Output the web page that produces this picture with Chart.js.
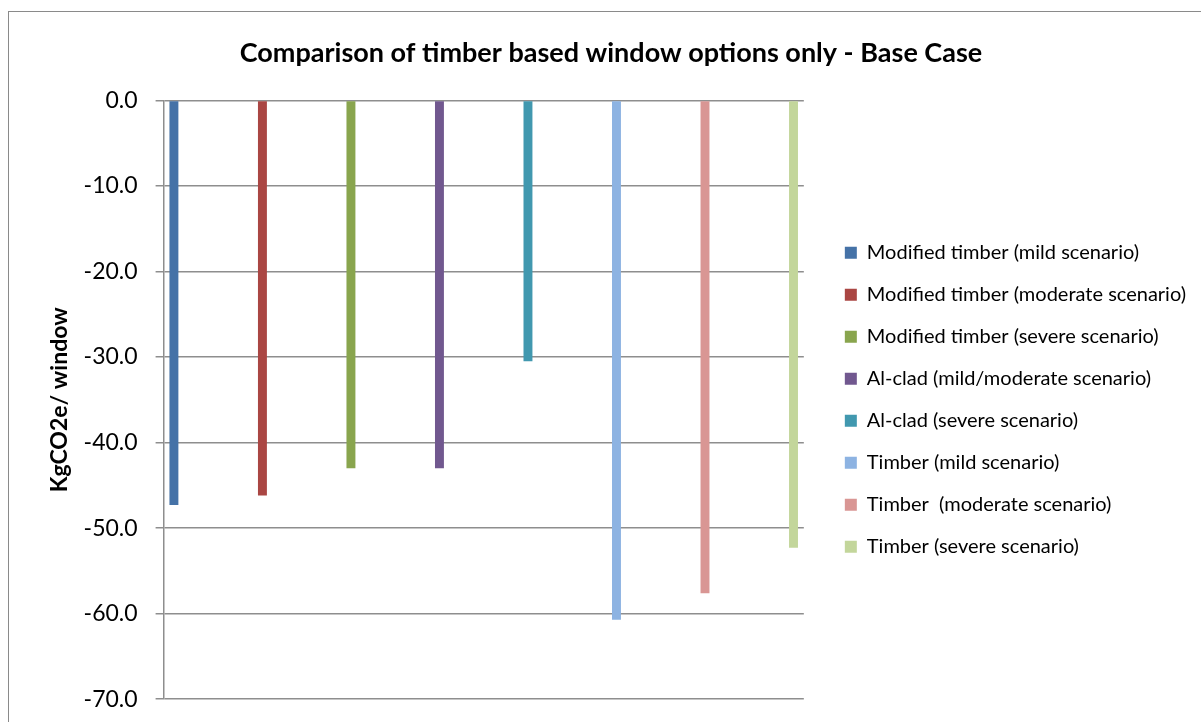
<!DOCTYPE html>
<html>
<head>
    <title>Timber window options</title>
    <script src="https://cdn.jsdelivr.net/npm/chart.js@4"></script>
    <style>
        body { margin: 0; background: #fff; font-family: Lato, sans-serif; overflow: hidden; }
        .frame { position: absolute; left: 8px; top: 11px; width: 1300px; height: 800px; border: 1px solid #8a8a8a; }
        .chart-box { position: absolute; left: 0; top: 0; width: 1222px; height: 731px; }
    </style>
</head>
<body>
    <div class="frame"></div>
    <div class="chart-box"><canvas id="chart"></canvas></div>

    <script>
        const categories = [''];
        const seriesNames = [
            'Modified timber (mild scenario)',
            'Modified timber (moderate scenario)',
            'Modified timber (severe scenario)',
            'Al-clad (mild/moderate scenario)',
            'Al-clad (severe scenario)',
            'Timber (mild scenario)',
            'Timber  (moderate scenario)',
            'Timber (severe scenario)'
        ];
        const seriesValues = [-47.3, -46.2, -43.0, -43.0, -30.5, -60.7, -57.6, -52.3];
        const seriesColors = ['#4572A7', '#AA4643', '#89A54E', '#71588F', '#4198AF', '#8DB3E2', '#D99694', '#C3D69B'];
        const yTicks = [0, -10, -20, -30, -40, -50, -60, -70];

        function drawChart() {
            const datasets = seriesNames.map((name, i) => ({
                label: name,
                data: [seriesValues[i]],
                backgroundColor: seriesColors[i],
                borderWidth: 0,
                categoryPercentage: 1.106,
                barPercentage: 0.101
            }));

            new Chart(document.getElementById('chart'), {
                type: 'bar',
                data: { labels: categories, datasets: datasets },
                options: {
                    responsive: true,
                    maintainAspectRatio: false,
                    animation: false,
                    layout: { padding: { left: 26, right: 26, top: 0, bottom: 6 } },
                    plugins: {
                        title: {
                            display: true,
                            text: 'Comparison of timber based window options only - Base Case',
                            color: '#000',
                            font: { family: 'Lato', size: 27, weight: 'bold' },
                            padding: { top: 37, bottom: 31 }
                        },
                        legend: {
                            position: 'right',
                            fullSize: false,
                            maxWidth: 420,
                            labels: {
                                color: '#000',
                                font: { family: 'Lato', size: 20 },
                                boxWidth: 12,
                                boxHeight: 12,
                                padding: 22
                            }
                        },
                        tooltip: { enabled: false }
                    },
                    scales: {
                        x: { display: false },
                        y: {
                            min: -70,
                            max: 0,
                            afterBuildTicks: axis => { axis.ticks = yTicks.map(v => ({ value: v })); },
                            ticks: {
                                color: '#000',
                                font: { family: 'Lato', size: 23 },
                                padding: 18,
                                callback: v => Number(v).toFixed(1)
                            },
                            grid: { color: '#8e8e8e', lineWidth: 1.5, tickLength: 8 },
                            border: { color: '#8e8e8e', width: 1.5 },
                            title: {
                                display: true,
                                text: 'KgCO2e/ window',
                                color: '#000',
                                font: { family: 'Lato', size: 23, weight: 'bold' },
                                padding: { top: 20, bottom: -8 }
                            }
                        },
                        // empty right-hand spacer between plot and legend
                        gap: {
                            position: 'right',
                            ticks: { display: false },
                            grid: { display: false },
                            border: { display: false },
                            afterFit: axis => { axis.width = 19; }
                        }
                    }
                }
            });
        }

        Promise.all([
            document.fonts.load('20px Lato'),
            document.fonts.load('bold 20px Lato')
        ]).then(drawChart, drawChart);
    </script>
</body>
</html>
